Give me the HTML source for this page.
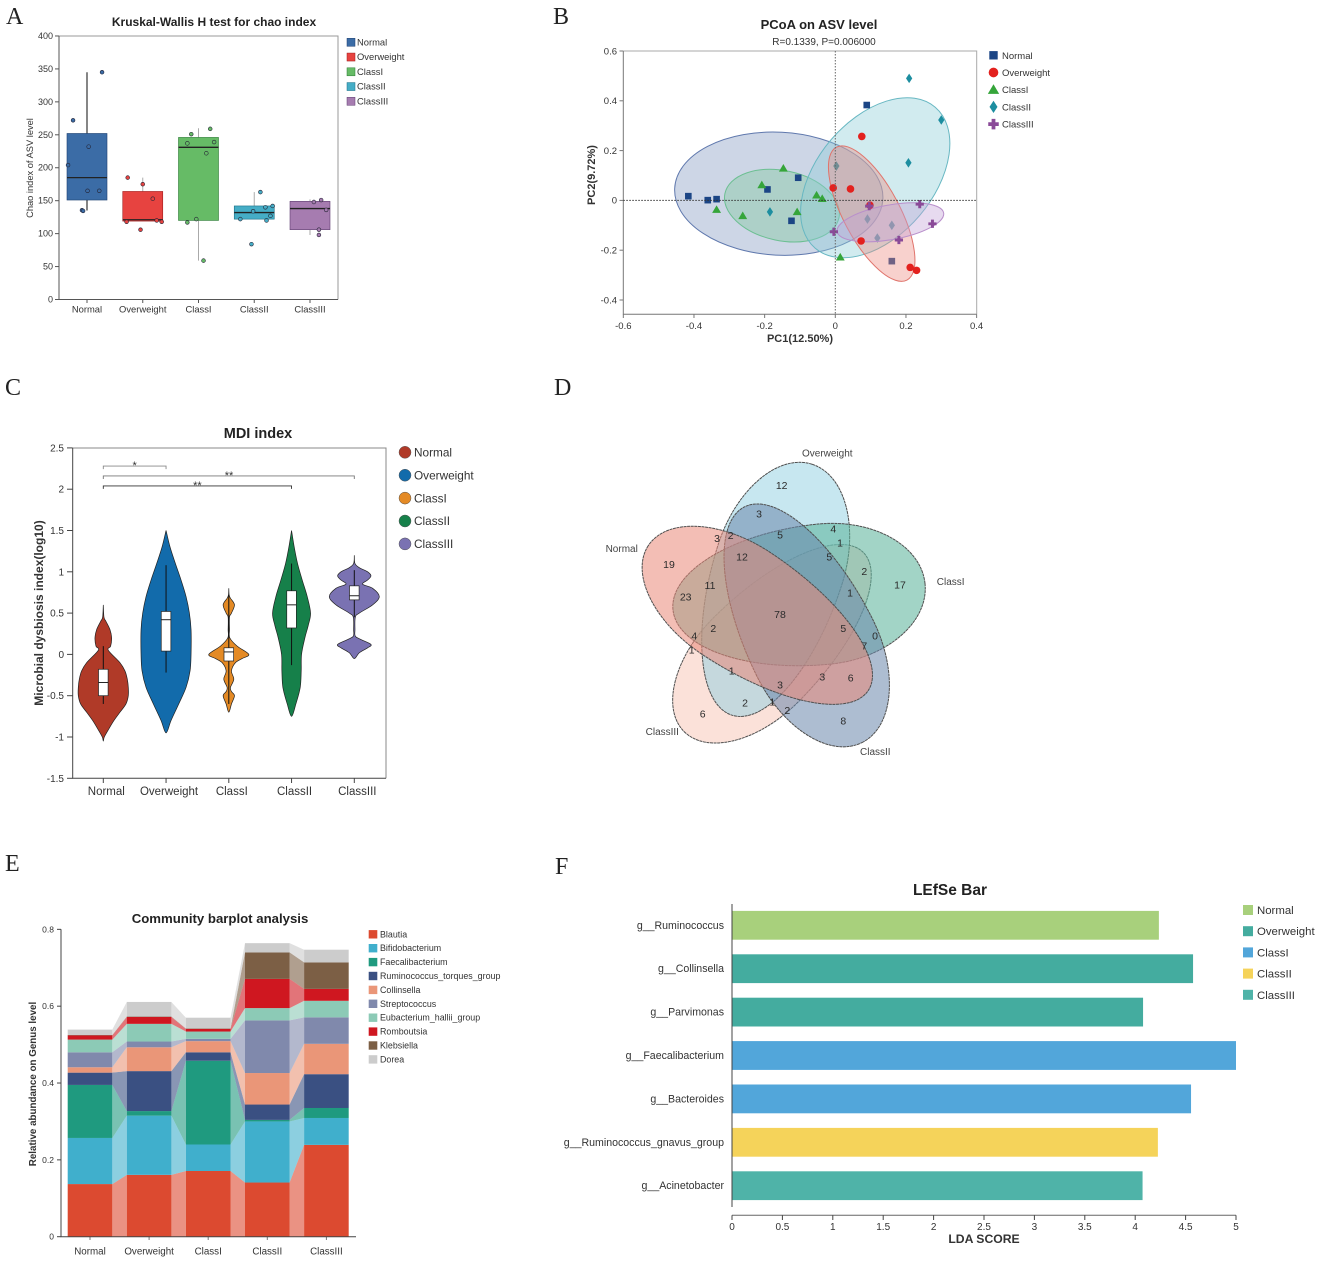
<!DOCTYPE html>
<html lang="en">
<head>
<meta charset="utf-8">
<title>Microbiome figure panels</title>
<style>
html,body{margin:0;padding:0;background:#fff;}
svg{display:block;font-family:"Liberation Sans",sans-serif;filter:blur(.35px);}
text{fill:#333;}
.panel-letter{font-family:"Liberation Serif",serif;font-size:24px;fill:#222;}
.venn-num{font-size:10.5px;text-anchor:middle;dominant-baseline:central;fill:#2b2b2b;}
.venn-label{font-size:10px;text-anchor:middle;dominant-baseline:central;fill:#444;}
.venn-shape{stroke:#4f4f4f;stroke-width:1;stroke-dasharray:3 .6;vector-effect:non-scaling-stroke;}
</style>
</head>
<body>
<svg xmlns="http://www.w3.org/2000/svg" width="1325" height="1263" viewBox="0 0 1325 1263">
<rect width="1325" height="1263" fill="#fff"/>
<text class="panel-letter" x="6" y="24">A</text>
<text class="panel-letter" x="553" y="24">B</text>
<text class="panel-letter" x="5" y="395">C</text>
<text class="panel-letter" x="554" y="395">D</text>
<text class="panel-letter" x="5" y="871">E</text>
<text class="panel-letter" x="555" y="874">F</text>

<g id="panelA">
<text x="214" y="26" font-size="12" font-weight="bold" text-anchor="middle" style="fill:#222">Kruskal-Wallis H test for chao index</text>
<text transform="translate(33 168) rotate(-90)" font-size="9.3" text-anchor="middle">Chao index of ASV level</text>
</g>

<g id="panelB">
<text x="819" y="29" font-size="13" font-weight="bold" text-anchor="middle" style="fill:#222">PCoA on ASV level</text>
<text x="824" y="45" font-size="10" text-anchor="middle">R=0.1339, P=0.006000</text>
<text x="800" y="342" font-size="11" font-weight="bold" text-anchor="middle">PC1(12.50%)</text>
<text transform="translate(595 175) rotate(-90)" font-size="11" font-weight="bold" text-anchor="middle">PC2(9.72%)</text>
</g>

<g id="panelC">
<text x="258" y="438" font-size="14.5" font-weight="bold" text-anchor="middle" style="fill:#222">MDI index</text>
<text transform="translate(43 613) rotate(-90)" font-size="12" font-weight="bold" text-anchor="middle">Microbial dysbiosis index(log10)</text>
</g>

<g id="panelD">
<path class="venn-shape" d="M1 0C1 -.55 .64 -1 .2 -1C-.46 -1 -1 -.55 -1 0C-1 .55 -.46 1 .2 1C.64 1 1 .55 1 0Z" transform="translate(773.7 642) rotate(135) scale(126.7 59.7)" fill="#f8c4b4" fill-opacity=".5"/>
<path class="venn-shape" d="M1 0C1 -.55 .64 -1 .2 -1C-.46 -1 -1 -.55 -1 0C-1 .55 -.46 1 .2 1C.64 1 1 .55 1 0Z" transform="translate(772 589.7) rotate(-72.3) scale(131.7 65)" fill="#90d0e2" fill-opacity=".5"/>
<path class="venn-shape" d="M1 0C1 -.55 .64 -1 .2 -1C-.46 -1 -1 -.55 -1 0C-1 .55 -.46 1 .2 1C.64 1 1 .55 1 0Z" transform="translate(799 596.7) rotate(-6) scale(126.7 70.3)" fill="#5fb59c" fill-opacity=".58"/>
<path class="venn-shape" d="M1 0C1 -.55 .64 -1 .2 -1C-.46 -1 -1 -.55 -1 0C-1 .55 -.46 1 .2 1C.64 1 1 .55 1 0Z" transform="translate(803.3 624.7) rotate(63.5) scale(131.7 64.5)" fill="#6a86ab" fill-opacity=".55"/>
<path class="venn-shape" d="M1 0C1 -.55 .64 -1 .2 -1C-.46 -1 -1 -.55 -1 0C-1 .55 -.46 1 .2 1C.64 1 1 .55 1 0Z" transform="translate(758.3 618) rotate(213.4) scale(131.7 61.3)" fill="#e98878" fill-opacity=".55"/>
<text class="venn-label" x="827.3" y="454">Overweight</text>
<text class="venn-label" x="621.7" y="549.3">Normal</text>
<text class="venn-label" x="950.7" y="582.3">ClassI</text>
<text class="venn-label" x="875.3" y="752.3">ClassII</text>
<text class="venn-label" x="662.3" y="732.7">ClassIII</text>
<g>
<text class="venn-num" x="781.7" y="486">12</text>
<text class="venn-num" x="759" y="514.7">3</text>
<text class="venn-num" x="717" y="539">3</text>
<text class="venn-num" x="730.7" y="536">2</text>
<text class="venn-num" x="780" y="535.3">5</text>
<text class="venn-num" x="833.3" y="529.3">4</text>
<text class="venn-num" x="840" y="543.3">1</text>
<text class="venn-num" x="742" y="557.7">12</text>
<text class="venn-num" x="829.3" y="557.7">5</text>
<text class="venn-num" x="864.3" y="572">2</text>
<text class="venn-num" x="900" y="585.7">17</text>
<text class="venn-num" x="710" y="586">11</text>
<text class="venn-num" x="850" y="593.3">1</text>
<text class="venn-num" x="685.7" y="597.3">23</text>
<text class="venn-num" x="669" y="565">19</text>
<text class="venn-num" x="780" y="615">78</text>
<text class="venn-num" x="713.3" y="629">2</text>
<text class="venn-num" x="843.3" y="629">5</text>
<text class="venn-num" x="694.3" y="636.7">4</text>
<text class="venn-num" x="691.7" y="650.7">1</text>
<text class="venn-num" x="875" y="636.7">0</text>
<text class="venn-num" x="864.3" y="646.7">7</text>
<text class="venn-num" x="731.7" y="671.7">1</text>
<text class="venn-num" x="822.3" y="677.7">3</text>
<text class="venn-num" x="850.7" y="678.3">6</text>
<text class="venn-num" x="780" y="685.7">3</text>
<text class="venn-num" x="745" y="703.3">2</text>
<text class="venn-num" x="772.3" y="702.3">1</text>
<text class="venn-num" x="787.3" y="711">2</text>
<text class="venn-num" x="843.3" y="721.7">8</text>
<text class="venn-num" x="702.7" y="714.3">6</text>
</g>
</g>

<g id="panelE">
<text x="220" y="923" font-size="13.2" font-weight="bold" text-anchor="middle" style="fill:#222">Community barplot analysis</text>
<text transform="translate(36 1084) rotate(-90)" font-size="9.8" font-weight="bold" text-anchor="middle">Relative abundance on Genus level</text>
</g>

<g id="panelF">
<text x="950" y="895" font-size="15.5" font-weight="bold" text-anchor="middle" style="fill:#222">LEfSe Bar</text>
<text x="984" y="1243" font-size="12.2" font-weight="bold" text-anchor="middle">LDA SCORE</text>
</g>

<script>
/* ---------- Panel A data ---------- */
const groups = ['Normal', 'Overweight', 'ClassI', 'ClassII', 'ClassIII'];
const chaoTicks = [0, 50, 100, 150, 200, 250, 300, 350, 400];
const chaoQ1 = [151, 119, 120, 122, 106];
const chaoMedian = [185, 121, 231, 132, 138];
const chaoQ3 = [252, 164, 246, 142, 149];
const chaoLow = [135, 119, 59, 122, 98];
const chaoHigh = [345, 185, 260, 163, 152];
const chaoPoints = [
  [272, 232, 204, 165, 165, 135.5, 134.5, 345],
  [185, 175, 153, 120, 118, 106, 118],
  [251, 259, 237, 239, 222, 122, 117, 59],
  [163, 142, 140, 134, 127, 122, 120, 84],
  [151, 148, 136, 106, 98]
];
const chaoJitter = [
  [-.25, .03, -.34, .01, .22, -.09, -.07, .27],
  [-.27, 0, .18, .25, .34, -.04, -.29],
  [-.13, .21, -.2, .28, .14, -.04, -.2, .09],
  [.11, .33, .2, -.02, .29, -.25, .22, -.05],
  [.2, .07, .29, .16, .16]
];

/* ---------- Panel B data ---------- */
const pcoaXTicks = [-0.6, -0.4, -0.2, 0, 0.2, 0.4];
const pcoaYTicks = [-0.4, -0.2, 0, 0.2, 0.4, 0.6];
const pcoaPC1 = [
  [-.416, -.361, -.336, -.192, -.105, -.124, .089, .160],
  [.075, -.006, .043, .073, .212, .23, .098],
  [-.147, -.208, -.053, -.037, -.336, -.262, -.108, .014],
  [.209, .3, .207, .003, -.185, .091, .16, .119],
  [.239, .096, .275, .18, -.004]
];
const pcoaPC2 = [
  [.017, .001, .005, .044, .091, -.082, .383, -.244],
  [.257, .05, .046, -.163, -.269, -.281, -.019],
  [.129, .062, .021, .007, -.037, -.062, -.046, -.228],
  [.49, .323, .151, .138, -.046, -.075, -.1, -.151],
  [-.015, -.023, -.094, -.159, -.126]
];
const ellipseCenterX = [-.16, .103, -.151, .113, .156];
const ellipseCenterY = [.027, -.053, -.021, .091, -.088];
const ellipseSemiMajor = [.295, .213, .165, .262, .153];
const ellipseSemiMinor = [.174, .08, .099, .165, .049];
const ellipseTilt = [3, 62, 12, -49.6, -10];

/* ---------- Panel C data ---------- */
const mdiTicks = [-1.5, -1, -0.5, 0, 0.5, 1, 1.5, 2, 2.5];
const mdiValues = [
  [.6, .45, .4, .3, .2, .1, .05, -.1, -.2, -.3, -.4, -.5, -.6, -.7, -.8, -.9, -1, -1.05],
  [1.5, 1.3, 1.1, .9, .7, .5, .3, 0, -.2, -.4, -.6, -.8, -.95],
  [.8, .72, .68, .6, .5, .45, .3, .2, .1, 0, -.05, -.1, -.2, -.3, -.4, -.45, -.5, -.6, -.7],
  [1.5, 1.3, 1.1, .9, .7, .5, .35, .2, 0, -.2, -.4, -.6, -.75],
  [1.2, 1.1, 1.05, 1, .95, .9, .85, .8, .7, .6, .5, .45, .3, .22, .18, .12, .08, .02, -.05]
];
const mdiDensity = [
  [0, 2, 8, 20, 25, 22, 15, 50, 65, 72, 75, 75, 68, 50, 32, 17, 3, 0],
  [0, 12, 28, 45, 60, 70, 75, 75, 72, 60, 38, 15, 0],
  [0, 1, 5, 17, 8, 2, 2, 3, 25, 60, 40, 20, 8, 15, 5, 8, 17, 8, 0],
  [0, 8, 18, 32, 47, 57, 50, 40, 30, 29, 26, 13, 0],
  [0, 2, 15, 40, 50, 40, 25, 55, 75, 55, 15, 3, 2, 3, 20, 50, 40, 15, 0]
];
const mdiQ1 = [-.5, .04, -.08, .32, .66];
const mdiMedian = [-.34, .42, .03, .6, .71];
const mdiQ3 = [-.18, .52, .08, .77, .83];
const mdiLow = [-.6, -.22, -.6, -.13, .45];
const mdiHigh = [.1, 1.08, .72, 1.1, 1.02];
const bracketEnd = [1, 4, 3];
const bracketLevel = [2.28, 2.16, 2.04];
const bracketMark = ['*', '**', '**'];

/* ---------- Panel E data ---------- */
const genera = ['Blautia', 'Bifidobacterium', 'Faecalibacterium', 'Ruminococcus_torques_group', 'Collinsella', 'Streptococcus', 'Eubacterium_hallii_group', 'Romboutsia', 'Klebsiella', 'Dorea'];
const abundanceTicks = [0, 0.2, 0.4, 0.6, 0.8];
const abundanceNormal = [.137, .120, .138, .032, .014, .039, .033, .011, .001, .014];
const abundanceOverweight = [.161, .154, .012, .104, .062, .015, .046, .018, .001, .038];
const abundanceClassI = [.171, .069, .218, .022, .029, .006, .019, .007, .001, .028];
const abundanceClassII = [.141, .159, .004, .04, .082, .137, .032, .076, .069, .024];
const abundanceClassIII = [.239, .07, .026, .088, .079, .069, .043, .031, .069, .033];

/* ---------- Panel F data ---------- */
const lefseTaxa = ['g__Ruminococcus', 'g__Collinsella', 'g__Parvimonas', 'g__Faecalibacterium', 'g__Bacteroides', 'g__Ruminococcus_gnavus_group', 'g__Acinetobacter'];
const ldaScores = [4.235, 4.574, 4.078, 5, 4.554, 4.225, 4.073];
const lefseGroup = [0, 1, 1, 2, 2, 3, 4];
const ldaTicks = [0, 0.5, 1, 1.5, 2, 2.5, 3, 3.5, 4, 4.5, 5];

/* ---------- helpers ---------- */
const NS = 'http://www.w3.org/2000/svg';
function make(parent, tag, props, content) {
  const node = document.createElementNS(NS, tag);
  for (const k in props) node.setAttribute(k, props[k]);
  if (content !== undefined) node.textContent = content;
  parent.appendChild(node);
  return node;
}
function smoothPath(pts) {
  let d = 'M' + pts[0][0].toFixed(2) + ' ' + pts[0][1].toFixed(2);
  for (let i = 0; i < pts.length - 1; i++) {
    const p0 = pts[Math.max(i - 1, 0)], p1 = pts[i], p2 = pts[i + 1], p3 = pts[Math.min(i + 2, pts.length - 1)];
    const c1x = p1[0] + (p2[0] - p0[0]) / 6, c1y = p1[1] + (p2[1] - p0[1]) / 6;
    const c2x = p2[0] - (p3[0] - p1[0]) / 6, c2y = p2[1] - (p3[1] - p1[1]) / 6;
    d += 'C' + c1x.toFixed(2) + ' ' + c1y.toFixed(2) + ' ' + c2x.toFixed(2) + ' ' + c2y.toFixed(2) + ' ' + p2[0].toFixed(2) + ' ' + p2[1].toFixed(2);
  }
  return d;
}
const panelA = document.getElementById('panelA');
const panelB = document.getElementById('panelB');
const panelC = document.getElementById('panelC');
const panelE = document.getElementById('panelE');
const panelF = document.getElementById('panelF');

/* ---------- Panel A ---------- */
(function () {
  const colors = ['#3b6ca6', '#e74340', '#66bb66', '#45adc6', '#a67cb0'];
  const dark = ['#1d3f70', '#a01c1c', '#2c7a35', '#1b6f87', '#5f3d70'];
  const xA = i => 87 + i * 55.75;
  const yA = v => 299.5 - v * 0.6588;
  const frame = make(panelA, 'path', {d: 'M59 36H338V299.5', fill: 'none', stroke: '#999', 'stroke-width': 1});
  
  
  const axes = make(panelA, 'path', {d: 'M59 36V299.5H338', fill: 'none', stroke: '#555', 'stroke-width': 1});
  
  
  chaoTicks.forEach(t => {
    const tick = make(panelA, 'line', {x1: 55, x2: 59, y1: yA(t), y2: yA(t), stroke: '#555'});
    
    
    const lab = make(panelA, 'text', {x: 53, y: yA(t) + 3, 'font-size': 9, 'text-anchor': 'end'}, t);
    
    
  });
  groups.forEach((g, i) => {
    const x = xA(i);
    const tick = make(panelA, 'line', {x1: x, x2: x, y1: 299.5, y2: 303, stroke: '#555'});
    
    
    const lab = make(panelA, 'text', {x: x, y: 312.5, 'font-size': 9.4, 'text-anchor': 'middle'}, g);
    
    
    const whisk = make(panelA, 'line', {x1: x, x2: x, y1: yA(chaoHigh[i]), y2: yA(chaoLow[i]), stroke: i === 0 ? '#444' : '#aaa', 'stroke-width': i === 0 ? 1.3 : 1});
    
    
    const box = make(panelA, 'rect', {x: x - 20, width: 40, y: yA(chaoQ3[i]), height: yA(chaoQ1[i]) - yA(chaoQ3[i]), fill: colors[i], stroke: dark[i], 'stroke-width': .6});
    
    
    const med = make(panelA, 'line', {x1: x - 20, x2: x + 20, y1: yA(chaoMedian[i]), y2: yA(chaoMedian[i]), stroke: '#222', 'stroke-width': 1.3});
    
    
    chaoPoints[i].forEach((v, j) => {
      const pt = make(panelA, 'circle', {cx: x + chaoJitter[i][j] * 55.75, cy: yA(v), r: 1.9, fill: colors[i], stroke: '#223', 'stroke-width': .6});
      
      
    });
    const ly = 42.3 + i * 14.75;
    const sw = make(panelA, 'rect', {x: 347, y: ly - 4, width: 8, height: 8, fill: colors[i], stroke: dark[i], 'stroke-width': .5});
    
    
    const lt = make(panelA, 'text', {x: 357, y: ly + 3, 'font-size': 9.4}, g);
    
    
  });
})();

/* ---------- Panel B ---------- */
(function () {
  const pointColors = ['#1b4585', '#e3211e', '#35a53a', '#1d8ea0', '#8a4a98'];
  const fills = ['#8298c0', '#ee8c82', '#7cc79a', '#8ccdd6', '#c4a2d6'];
  const strokes = ['#5f78ad', '#e0746c', '#6cbf92', '#67b7c2', '#b98fcb'];
  const xB = v => 835.3 + v * 353.3;
  const yB = v => 200.4 - v * 249;
  function drawEllipse(i) {
    const cx = xB(ellipseCenterX[i]), cy = yB(ellipseCenterY[i]);
    const el = make(panelB, 'ellipse', {cx: cx, cy: cy, rx: ellipseSemiMajor[i] * 353.3, ry: ellipseSemiMinor[i] * 353.3, transform: 'rotate(' + ellipseTilt[i] + ' ' + cx + ' ' + cy + ')', fill: fills[i], 'fill-opacity': .4, stroke: strokes[i], 'stroke-width': 1});
    
    
  }
  function marker(kind, x, y, s, color) {
    let node;
    if (kind === 0) {
      node = make(panelB, 'rect', {x: x - s, y: y - s, width: 2 * s, height: 2 * s, fill: color});
    } else if (kind === 1) {
      node = make(panelB, 'circle', {cx: x, cy: y, r: s * 1.15, fill: color});
    } else if (kind === 2) {
      node = make(panelB, 'path', {d: 'M' + x + ' ' + (y - s * 1.3) + 'L' + (x + s * 1.35) + ' ' + (y + s) + 'H' + (x - s * 1.35) + 'Z', fill: color});
    } else if (kind === 3) {
      node = make(panelB, 'path', {d: 'M' + x + ' ' + (y - s * 1.45) + 'L' + (x + s * .95) + ' ' + y + 'L' + x + ' ' + (y + s * 1.45) + 'L' + (x - s * .95) + ' ' + y + 'Z', fill: color});
    } else {
      const a = s * .45, b = s * 1.25;
      node = make(panelB, 'path', {d: 'M' + (x - a) + ' ' + (y - b) + 'H' + (x + a) + 'V' + (y - a) + 'H' + (x + b) + 'V' + (y + a) + 'H' + (x + a) + 'V' + (y + b) + 'H' + (x - a) + 'V' + (y + a) + 'H' + (x - b) + 'V' + (y - a) + 'H' + (x - a) + 'Z', fill: color});
    }
    return node;
  }
  function drawPoints(i) {
    pcoaPC1[i].forEach((v, j) => {
      const m = marker(i, xB(v), yB(pcoaPC2[i][j]), 3.3, pointColors[i]);
      
      
    });
  }
  const frame = make(panelB, 'path', {d: 'M623.3 51H976.7V314.3', fill: 'none', stroke: '#aaa'});
  
  
  const axes = make(panelB, 'path', {d: 'M623.3 51V314.3H976.7', fill: 'none', stroke: '#777'});
  
  
  [0, 2, 3].forEach(drawEllipse);
  [0, 2, 3].forEach(drawPoints);
  [1, 4].forEach(drawEllipse);
  [1, 4].forEach(drawPoints);
  const hz = make(panelB, 'line', {x1: 623.3, x2: 976.7, y1: yB(0), y2: yB(0), stroke: '#333', 'stroke-dasharray': '1.5 1.5'});
  
  
  const vz = make(panelB, 'line', {x1: xB(0), x2: xB(0), y1: 51, y2: 314.3, stroke: '#666', 'stroke-dasharray': '1.5 1.5'});
  
  
  pcoaXTicks.forEach(t => {
    const tick = make(panelB, 'line', {x1: xB(t), x2: xB(t), y1: 314.3, y2: 318, stroke: '#777'});
    
    
    const lab = make(panelB, 'text', {x: xB(t), y: 329, 'font-size': 9.5, 'text-anchor': 'middle'}, t);
    
    
  });
  pcoaYTicks.forEach(t => {
    const tick = make(panelB, 'line', {x1: 619.5, x2: 623.3, y1: yB(t), y2: yB(t), stroke: '#777'});
    
    
    const lab = make(panelB, 'text', {x: 617, y: yB(t) + 3.3, 'font-size': 9.5, 'text-anchor': 'end'}, t);
    
    
  });
  groups.forEach((g, i) => {
    const ly = 55.3 + i * 17.2;
    const lm = marker(i, 993.5, ly, 4.2, pointColors[i]);
    
    
    const lt = make(panelB, 'text', {x: 1002, y: ly + 3.5, 'font-size': 9.5}, g);
    
    
  });
})();

/* ---------- Panel C ---------- */
(function () {
  const colors = ['#b03a28', '#126bab', '#e48a25', '#16804a', '#7a72b2'];
  const xC = i => 103.3 + i * 62.75;
  const yC = v => 654.4 - v * 82.6;
  const frame = make(panelC, 'path', {d: 'M72.7 448H386V778.3', fill: 'none', stroke: '#888', 'stroke-width': 1});
  
  
  const axes = make(panelC, 'path', {d: 'M72.7 448V778.3H386', fill: 'none', stroke: '#444', 'stroke-width': 1});
  
  
  mdiTicks.forEach(t => {
    const tick = make(panelC, 'line', {x1: 67, x2: 72.7, y1: yC(t), y2: yC(t), stroke: '#444'});
    
    
    const lab = make(panelC, 'text', {x: 64, y: yC(t) + 3.5, 'font-size': 10, 'text-anchor': 'end'}, t);
    
    
  });
  groups.forEach((g, i) => {
    const x = xC(i);
    const tick = make(panelC, 'line', {x1: x, x2: x, y1: 778.3, y2: 783, stroke: '#444'});
    
    
    const lab = make(panelC, 'text', {x: x + 3, y: 795, 'font-size': 11.5, 'text-anchor': 'middle'}, g);
    
    
    const right = mdiValues[i].map((v, j) => [x + mdiDensity[i][j] / 3, yC(v)]);
    const left = mdiValues[i].map((v, j) => [x - mdiDensity[i][j] / 3, yC(v)]).reverse();
    const outline = right.concat(left.slice(1));
    const violin = make(panelC, 'path', {d: smoothPath(outline) + 'Z', fill: colors[i], stroke: '#222', 'stroke-width': .7});
    
    
    const whisk = make(panelC, 'line', {x1: x, x2: x, y1: yC(mdiHigh[i]), y2: yC(mdiLow[i]), stroke: '#111', 'stroke-width': 1});
    
    
    const box = make(panelC, 'rect', {x: x - 4.8, width: 9.6, y: yC(mdiQ3[i]), height: yC(mdiQ1[i]) - yC(mdiQ3[i]), fill: '#fff', stroke: '#222', 'stroke-width': .7});
    
    
    const med = make(panelC, 'line', {x1: x - 4.8, x2: x + 4.8, y1: yC(mdiMedian[i]), y2: yC(mdiMedian[i]), stroke: '#222', 'stroke-width': 1});
    
    
    const ly = 452.3 + i * 22.9;
    const dot = make(panelC, 'circle', {cx: 405, cy: ly, r: 6, fill: colors[i], stroke: '#555', 'stroke-width': .5});
    
    
    const lt = make(panelC, 'text', {x: 414, y: ly + 4.2, 'font-size': 11.8}, g);
    
    
  });
  bracketEnd.forEach((end, i) => {
    const y = yC(bracketLevel[i]), x1 = xC(0), x2 = xC(end);
    const br = make(panelC, 'path', {d: 'M' + x1 + ' ' + (y + 3) + 'V' + y + 'H' + x2 + 'V' + (y + 3), fill: 'none', stroke: i === 0 ? '#888' : (i === 1 ? '#777' : '#333'), 'stroke-width': .9});
    
    
    const star = make(panelC, 'text', {x: (i === 1 ? 229 : (x1 + x2) / 2), y: y + 3, 'font-size': 11, 'text-anchor': 'middle'}, bracketMark[i]);
    
    
  });
})();

/* ---------- Panel E ---------- */
(function () {
  const colors = ['#dc4a30', '#40afcc', '#1f9a7f', '#3a5082', '#ea9678', '#8089ac', '#8ccab6', '#cf1720', '#7c5f45', '#cccccc'];
  const columns = [abundanceNormal, abundanceOverweight, abundanceClassI, abundanceClassII, abundanceClassIII];
  const xE = i => 90 + i * 59.1;
  const barHalf = 22.3;
  const yE = v => 1236.7 - v * 384.2;
  const stackBase = (col, k) => col.slice(0, k).reduce((a, b) => a + b, 0);
  columns.forEach((col, i) => {
    col.forEach((v, k) => {
      const base = stackBase(col, k);
      if (i < columns.length - 1) {
        const next = columns[i + 1];
        const nb = stackBase(next, k);
        const xa = xE(i) + barHalf, xb = xE(i + 1) - barHalf;
        const band = make(panelE, 'path', {d: 'M' + xa + ' ' + yE(base) + 'L' + xb + ' ' + yE(nb) + 'L' + xb + ' ' + yE(nb + next[k]) + 'L' + xa + ' ' + yE(base + v) + 'Z', fill: colors[k], 'fill-opacity': .6});
        
        
      }
      const seg = make(panelE, 'rect', {x: xE(i) - barHalf, width: 2 * barHalf, y: yE(base + v), height: yE(base) - yE(base + v), fill: colors[k]});
      
      
    });
    const tick = make(panelE, 'line', {x1: xE(i), x2: xE(i), y1: 1236.7, y2: 1240, stroke: '#777'});
    
    
    const lab = make(panelE, 'text', {x: xE(i), y: 1254.5, 'font-size': 9.8, 'text-anchor': 'middle'}, groups[i]);
    
    
  });
  const axes = make(panelE, 'path', {d: 'M61 929.3V1236.7H356', fill: 'none', stroke: '#444', 'stroke-width': 1});
  
  
  abundanceTicks.forEach(t => {
    const tick = make(panelE, 'line', {x1: 57, x2: 61, y1: yE(t), y2: yE(t), stroke: '#444'});
    
    
    const lab = make(panelE, 'text', {x: 54, y: yE(t) + 3, 'font-size': 8.5, 'text-anchor': 'end'}, t);
    
    
  });
  genera.forEach((g, k) => {
    const ly = 934.3 + k * 13.9;
    const sw = make(panelE, 'rect', {x: 368.7, y: ly - 4.2, width: 8.6, height: 8.4, fill: colors[k]});
    
    
    const lt = make(panelE, 'text', {x: 380, y: ly + 3, 'font-size': 8.9}, g);
    
    
  });
})();

/* ---------- Panel F ---------- */
(function () {
  const colors = ['#a8d07c', '#44ac9f', '#52a6da', '#f5d35a', '#4fb3a8'];
  const xF = v => 732 + v * 100.8;
  const yF = i => 925.3 + i * 43.4;
  lefseTaxa.forEach((name, i) => {
    const bar = make(panelF, 'rect', {x: xF(0), width: xF(ldaScores[i]) - xF(0), y: yF(i) - 14.4, height: 28.8, fill: colors[lefseGroup[i]]});
    
    
    const lab = make(panelF, 'text', {x: 724, y: yF(i) + 3.5, 'font-size': 10.6, 'text-anchor': 'end'}, name);
    
    
  });
  const yAxis = make(panelF, 'line', {x1: 732, x2: 732, y1: 904, y2: 1207, stroke: '#444'});
  
  
  const xAxis = make(panelF, 'line', {x1: 732, x2: 1236, y1: 1215.3, y2: 1215.3, stroke: '#666'});
  
  
  ldaTicks.forEach(t => {
    const tick = make(panelF, 'line', {x1: xF(t), x2: xF(t), y1: 1215.3, y2: 1220, stroke: '#444'});
    
    
    const lab = make(panelF, 'text', {x: xF(t), y: 1230, 'font-size': 10, 'text-anchor': 'middle'}, t);
    
    
  });
  groups.forEach((g, i) => {
    const ly = 910 + i * 21.2;
    const sw = make(panelF, 'rect', {x: 1243, y: ly - 5, width: 10, height: 10, fill: colors[i]});
    
    
    const lt = make(panelF, 'text', {x: 1257, y: ly + 4, 'font-size': 11.4}, g);
    
    
  });
})();
</script>
</svg>
</body>
</html>
